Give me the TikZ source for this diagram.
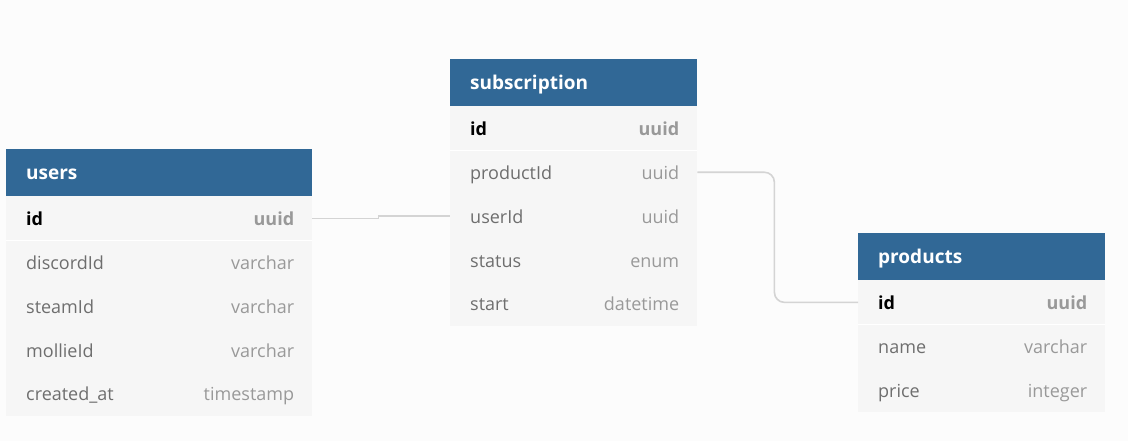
\documentclass[tikz,border=0pt]{standalone}
\usepackage{fontspec}
\setmainfont{Open Sans}
\usetikzlibrary{backgrounds}
\definecolor{bgc}{HTML}{FCFCFC}
\definecolor{hdrc}{HTML}{316896}
\definecolor{bodyc}{HTML}{F6F6F6}
\definecolor{namec}{HTML}{6E6E6E}
\definecolor{typec}{HTML}{999999}
\definecolor{linec}{HTML}{D4D4D4}
\newcommand{\fldrow}[3]{\hbox to #1{\hspace*{20pt}#2\hfill#3\hspace*{18pt}}}
\begin{document}
\begin{tikzpicture}[x=1pt,y=-1pt,
  hdr/.style={rectangle, fill=hdrc, anchor=north west, minimum height=47pt, inner xsep=0pt, inner ysep=0pt, text height=17pt, text depth=4pt, text=white, font=\fontsize{19}{22}\selectfont\bfseries},
  fld/.style={rectangle, anchor=north west, minimum height=43.5pt, inner xsep=0pt, inner ysep=0pt, text height=17pt, text depth=3pt, font=\fontsize{18}{21}\selectfont},
  body/.style={fill=bodyc},
  sep/.style={draw=white, line width=1pt},
  conn/.style={draw=linec, line width=1.6pt}]
\useasboundingbox (0,0) rectangle (1128,441);
% users
\node[hdr] (users) at (6,149) {\fldrow{306pt}{users}{}};
\node[fld] (users-id) at (users.south west) {\fldrow{306pt}{\textbf{id}}{\textcolor{typec}{\textbf{uuid}}}};
\node[fld] (users-discordId) at (users-id.south west) {\fldrow{306pt}{\textcolor{namec}{discordId}}{\textcolor{typec}{varchar}}};
\node[fld] (users-steamId) at (users-discordId.south west) {\fldrow{306pt}{\textcolor{namec}{steamId}}{\textcolor{typec}{varchar}}};
\node[fld] (users-mollieId) at (users-steamId.south west) {\fldrow{306pt}{\textcolor{namec}{mollieId}}{\textcolor{typec}{varchar}}};
\node[fld] (users-created) at (users-mollieId.south west) {\fldrow{306pt}{\textcolor{namec}{created\_at}}{\textcolor{typec}{timestamp}}};
% subscription
\node[hdr] (sub) at (450,59) {\fldrow{247pt}{subscription}{}};
\node[fld] (sub-id) at (sub.south west) {\fldrow{247pt}{\textbf{id}}{\textcolor{typec}{\textbf{uuid}}}};
\node[fld] (sub-productId) at (sub-id.south west) {\fldrow{247pt}{\textcolor{namec}{productId}}{\textcolor{typec}{uuid}}};
\node[fld] (sub-userId) at (sub-productId.south west) {\fldrow{247pt}{\textcolor{namec}{userId}}{\textcolor{typec}{uuid}}};
\node[fld] (sub-status) at (sub-userId.south west) {\fldrow{247pt}{\textcolor{namec}{status}}{\textcolor{typec}{enum}}};
\node[fld] (sub-start) at (sub-status.south west) {\fldrow{247pt}{\textcolor{namec}{start}}{\textcolor{typec}{datetime}}};
% products
\node[hdr] (prod) at (858,233) {\fldrow{247pt}{products}{}};
\node[fld] (prod-id) at (prod.south west) {\fldrow{247pt}{\textbf{id}}{\textcolor{typec}{\textbf{uuid}}}};
\node[fld] (prod-name) at (prod-id.south west) {\fldrow{247pt}{\textcolor{namec}{name}}{\textcolor{typec}{varchar}}};
\node[fld] (prod-price) at (prod-name.south west) {\fldrow{247pt}{\textcolor{namec}{price}}{\textcolor{typec}{integer}}};
\begin{scope}[on background layer]
\fill[bgc] (0,0) rectangle (1128,441);
\fill[body] (users.south west) rectangle (users-created.south east);
\fill[body] (sub.south west) rectangle (sub-start.south east);
\fill[body] (prod.south west) rectangle (prod-price.south east);
\draw[sep] (users-id.south west) -- (users-id.south east);
\draw[sep] (sub-id.south west) -- (sub-id.south east);
\draw[sep] (prod-id.south west) -- (prod-id.south east);
\end{scope}
% connectors
\draw[conn] (users-id.east) -- ++(66,0) |- (sub-userId.west);
\draw[conn, rounded corners=10pt] (sub-productId.east) -- ++(77,0) |- (prod-id.west);
\end{tikzpicture}
\end{document}
